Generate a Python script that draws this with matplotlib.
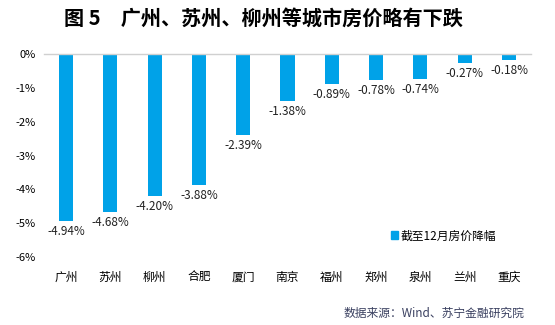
import matplotlib
matplotlib.use("Agg")
import matplotlib.pyplot as plt
from matplotlib.patches import Patch

plt.rcParams['font.family'] = ['Noto Sans CJK SC', 'DejaVu Sans']

cities = ["广州", "苏州", "柳州", "合肥", "厦门", "南京", "福州", "郑州", "泉州", "兰州", "重庆"]
values = [-4.94, -4.68, -4.20, -3.88, -2.39, -1.38, -0.89, -0.78, -0.74, -0.27, -0.18]
yticks = [0, -1, -2, -3, -4, -5, -6]
series_name = "截至12月房价降幅"
color = "#00A2E8"

fig = plt.figure(figsize=(5.55, 3.25), dpi=100)
ax = fig.add_axes([0.079, 0.209, 0.878, 0.625])
x = list(range(len(cities)))
ax.bar(x, values, width=0.32, color=color, zorder=2)
for xi, v in zip(x, values):
    ax.text(xi, v - 0.12, f"{v:.2f}%", ha="center", va="top", fontsize=8.5, color="#222222")

ax.set_ylim(-6, 0)
ax.set_xlim(-0.5, len(cities) - 0.5)
ax.set_yticks(yticks)
ax.set_yticklabels([f"{t}%" for t in yticks], fontsize=8)
ax.set_xticks(x)
ax.set_xticklabels(cities, fontsize=8.5)
ax.tick_params(axis="both", length=0, pad=6)
ax.tick_params(axis="x", pad=10)
for s in ["right", "left", "bottom"]:
    ax.spines[s].set_visible(False)
ax.spines["top"].set_color("#d0d0d0")
ax.spines["top"].set_linewidth(1)

ax.legend([Patch(color=color)], [series_name], loc="lower left",
          bbox_to_anchor=(0.69, 0.02), frameon=False, fontsize=8.5,
          handlelength=0.6, handleheight=0.6, handletextpad=0.2)

fig.text(0.475, 0.945, "图 5　广州、苏州、柳州等城市房价略有下跌", ha="center", va="center",
         fontsize=14.5, fontweight="heavy", color="black")
fig.text(0.945, 0.035, "数据来源：Wind、苏宁金融研究院", ha="right", va="center",
         fontsize=8.5, style="italic", color="#3a4060")

fig.savefig("out.png", dpi=100)
